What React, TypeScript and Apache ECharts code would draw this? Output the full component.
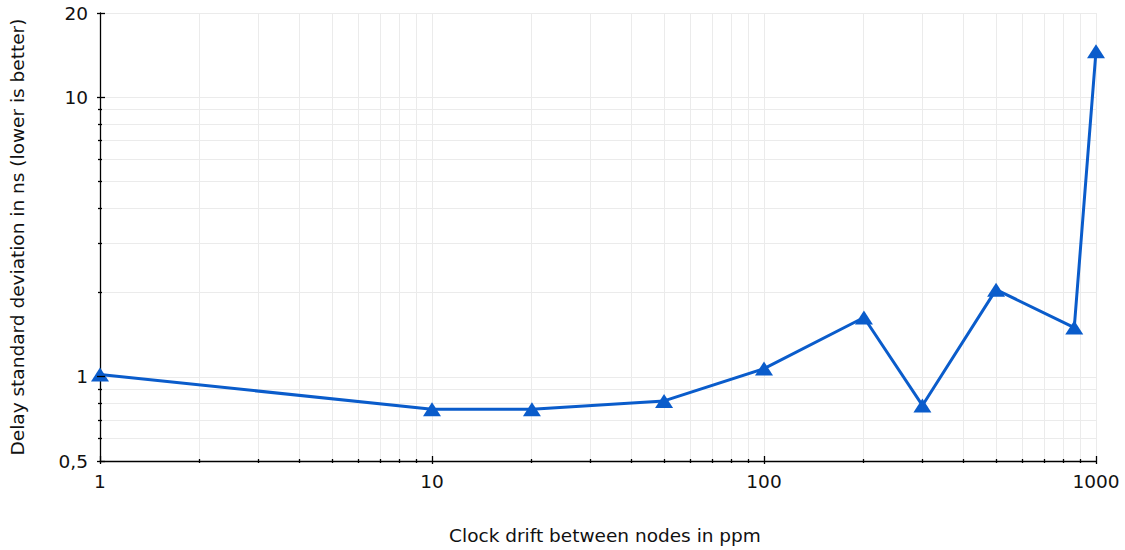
import React, { useEffect, useRef } from "react";
import * as echarts from "echarts";

// Clock drift (ppm) and the measured delay standard deviation (ns)
const drift = [1, 10, 20, 50, 100, 200, 300, 500, 860, 1000];
const delayStd = [1.02, 0.765, 0.765, 0.82, 1.07, 1.63, 0.79, 2.05, 1.5, 14.6];

// Axis ranges and the logarithmic minor divisions
const X_MIN = 1;
const X_MAX = 1000;
const Y_MIN = 0.5;
const Y_MAX = 20;
const xMajor = [1, 10, 100, 1000];
const xMinor = [2, 3, 4, 5, 6, 7, 8, 9, 20, 30, 40, 50, 60, 70, 80, 90, 200, 300, 400, 500, 600, 700, 800, 900];
const yMajor = [0.5, 1, 10, 20];
const yMinor = [0.6, 0.7, 0.8, 0.9, 2, 3, 4, 5, 6, 7, 8, 9];

const FONT = "DejaVu Sans";
const FONT_SIZE = 18.5;
const TEXT_COLOR = "#111";
const LINE_COLOR = "#0a5ccb";
const GRID_COLOR = "#ebebeb";

const crisp = (v: number) => Math.round(v - 0.5) + 0.5;

export default function App() {
  const ref = useRef<HTMLDivElement>(null);

  useEffect(() => {
    if (!ref.current) return;
    const chart = echarts.init(ref.current, null, { renderer: "svg" });

    const xGridSeries = {
      type: "custom",
      silent: true,
      z: 1,
      data: xMinor.map((v) => [v, Y_MIN]),
      encode: { x: 0, y: 1 },
      renderItem: (_p: any, api: any) => {
        const x = api.value(0);
        const top = api.coord([x, Y_MAX]);
        const bot = api.coord([x, Y_MIN]);
        const px = crisp(top[0]);
        return {
          type: "line",
          shape: { x1: px, y1: top[1], x2: px, y2: bot[1] },
          style: { stroke: GRID_COLOR, lineWidth: 1 },
        };
      },
    };

    const yGridSeries = {
      type: "custom",
      silent: true,
      z: 1,
      data: yMinor.map((v) => [X_MIN, v]),
      encode: { x: 0, y: 1 },
      renderItem: (_p: any, api: any) => {
        const y = api.value(1);
        const l = api.coord([X_MIN, y]);
        const r = api.coord([X_MAX, y]);
        const py = crisp(l[1]);
        return {
          type: "line",
          shape: { x1: l[0], y1: py, x2: r[0], y2: py },
          style: { stroke: GRID_COLOR, lineWidth: 1 },
        };
      },
    };

    // Tick marks: majors reach further into the plot than minors
    const xTickSeries = {
      type: "custom",
      silent: true,
      z: 5,
      data: [...xMajor.map((v) => [v, Y_MIN, 1]), ...xMinor.map((v) => [v, Y_MIN, 0])],
      encode: { x: 0, y: 1 },
      renderItem: (_p: any, api: any) => {
        const x = api.value(0);
        const major = api.value(2) === 1;
        const pt = api.coord([x, Y_MIN]);
        const px = crisp(pt[0]);
        return {
          type: "line",
          shape: { x1: px, y1: pt[1] - (major ? 5 : 2), x2: px, y2: pt[1] + (major ? 3 : 2) },
          style: { stroke: "#000", lineWidth: 1.3 },
        };
      },
    };

    const yTickSeries = {
      type: "custom",
      silent: true,
      z: 5,
      data: [...yMajor.map((v) => [X_MIN, v, 1]), ...yMinor.map((v) => [X_MIN, v, 0])],
      encode: { x: 0, y: 1 },
      renderItem: (_p: any, api: any) => {
        const y = api.value(1);
        const major = api.value(2) === 1;
        const pt = api.coord([X_MIN, y]);
        const py = crisp(pt[1]);
        return {
          type: "line",
          shape: { x1: pt[0] - (major ? 3 : 2), y1: py, x2: pt[0] + (major ? 5 : 2), y2: py },
          style: { stroke: "#000", lineWidth: 1.3 },
        };
      },
    };

    const fmt = (v: number) => String(Number(v.toPrecision(6))).replace(".", ",");

    chart.setOption({
      animation: false,
      backgroundColor: "#ffffff",
      textStyle: { fontFamily: FONT },
      grid: { left: 100, right: 29, top: 13, bottom: 89, containLabel: false },
      xAxis: {
        type: "log",
        logBase: 10,
        min: X_MIN,
        max: X_MAX,
        name: "Clock drift between nodes in ppm",
        nameLocation: "middle",
        nameGap: 65,
        nameTextStyle: {
          fontFamily: FONT,
          fontSize: FONT_SIZE,
          color: TEXT_COLOR,
          padding: [0, 0, 0, 14],
        },
        axisLine: { show: true, lineStyle: { color: "#000", width: 1.3 } },
        axisTick: { show: false },
        axisLabel: {
          fontFamily: FONT,
          fontSize: FONT_SIZE,
          color: TEXT_COLOR,
          margin: 11,
          formatter: fmt,
        },
        splitLine: { show: true, lineStyle: { color: GRID_COLOR, width: 1 } },
        minorTick: { show: false },
        minorSplitLine: { show: false },
      },
      yAxis: {
        type: "log",
        logBase: 10,
        min: Y_MIN,
        max: Y_MAX,
        name: "Delay standard deviation in ns (lower is better)",
        nameLocation: "middle",
        nameGap: 73,
        nameTextStyle: { fontFamily: FONT, fontSize: FONT_SIZE, color: TEXT_COLOR },
        axisLine: { show: true, lineStyle: { color: "#000", width: 1.3 } },
        axisTick: { show: false },
        axisLabel: {
          fontFamily: FONT,
          fontSize: FONT_SIZE,
          color: TEXT_COLOR,
          margin: 12,
          showMinLabel: true,
          showMaxLabel: true,
          formatter: fmt,
        },
        splitLine: { show: true, lineStyle: { color: GRID_COLOR, width: 1 } },
        minorTick: { show: false },
        minorSplitLine: { show: false },
      },
      series: [
        xGridSeries,
        yGridSeries,
        {
          type: "line",
          z: 3,
          clip: false,
          data: drift.map((x, i) => [x, delayStd[i]]),
          symbol: "triangle",
          symbolSize: [18, 14],
          lineStyle: { color: LINE_COLOR, width: 3 },
          itemStyle: { color: LINE_COLOR },
        },
        xTickSeries,
        yTickSeries,
      ],
    });

    return () => chart.dispose();
  }, []);

  return (
    <div
      ref={ref}
      style={{ position: "absolute", left: 0, top: 0, width: 1125, height: 550 }}
    />
  );
}
